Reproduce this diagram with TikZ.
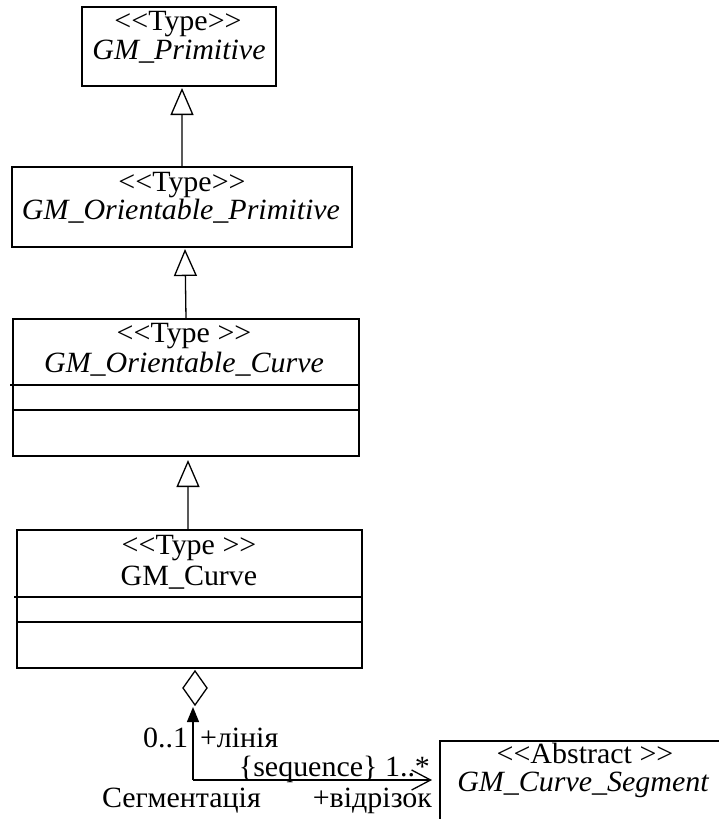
\documentclass[tikz,border=0pt]{standalone}
\usepackage{fontspec}
\setmainfont{Liberation Serif}[Ligatures=TeXOff,FakeStretch=1.02]
\usetikzlibrary{arrows.meta,shapes.geometric}
\begin{document}
\begin{tikzpicture}[x=1bp,y=-1bp,
  font=\fontsize{29.5}{30}\selectfont,
  umlbox/.style={draw,line width=1.3bp,inner sep=0,outer sep=0,anchor=north west},
  sepline/.style={line width=1.3bp},
  lbl/.style={inner sep=0,outer sep=0},
  gen/.style={line width=1.3bp,-{Triangle[open,length=27bp,width=23bp,line width=1.3bp]}},
  nav/.style={line width=1.3bp,-{Triangle[length=15bp,width=12bp]}},
  assoc/.style={line width=1.3bp,-{Straight Barb[length=19bp,width=20bp,line width=1.3bp]}},
  aggr/.style={draw,diamond,line width=1.3bp,inner sep=0,outer sep=0,
    minimum width=24bp,minimum height=34bp,aspect=0.7}
]
\useasboundingbox (0,0) rectangle (719,819);

% class boxes
\node[umlbox,minimum width=194bp,minimum height=79bp] (b1) at (82,7) {};
\node[umlbox,minimum width=340bp,minimum height=80bp] (b2) at (12,167) {};
\node[umlbox,minimum width=346bp,minimum height=137bp] (b3) at (13,319) {};
\node[umlbox,minimum width=345bp,minimum height=138bp] (b4) at (17,530) {};
\node[umlbox,minimum width=300bp,minimum height=100bp] (seg) at (440,741) {};

% compartment separators
\draw[sepline] (10,385) -- (b3.east |- 0,385);
\draw[sepline] (b3.west |- 0,410) -- (b3.east |- 0,410);
\draw[sepline] (14,597) -- (b4.east |- 0,597);
\draw[sepline] (b4.west |- 0,622) -- (b4.east |- 0,622);

% class names
\node[lbl,anchor=base] (s1) at (178,31) {<<Type>>};
\node[lbl,anchor=base] (n1) at (179,60) {\itshape GM\_Primitive};
\node[lbl,anchor=base] (s2) at (182,191) {<<Type>>};
\node[lbl,anchor=base] (n2) at (181,219) {\itshape GM\_Orientable\_Primitive};
\node[lbl,anchor=base] (s3) at (184,342) {<<Type >>};
\node[lbl,anchor=base] (n3) at (184,372) {\itshape GM\_Orientable\_Curve};
\node[lbl,anchor=base] (s4) at (189,554) {<<Type >>};
\node[lbl,anchor=base] (n4) at (189,585) {GM\_Curve};
\node[lbl,anchor=base] (s5) at (585,763) {<<Abstract >>};
\node[lbl,anchor=base] (n5) at (583,791) {\itshape GM\_Curve\_Segment};

% generalisations
\draw[gen] ([xshift=170bp]b2.north west) -- ([xshift=100bp,yshift=-2bp]b1.south west);
\draw[gen] ([xshift=173bp]b3.north west) -- ([xshift=173bp,yshift=-2bp]b2.south west);
\draw[gen] ([xshift=171bp]b4.north west) -- ([xshift=175bp,yshift=-4bp]b3.south west);

% aggregation with segments
\node[aggr,anchor=north] (dia) at ([xshift=178bp,yshift=-3bp]b4.south west) {};
\coordinate (bend) at (193,780);
\draw[nav] (bend) -- (bend |- 0,707);
\draw[assoc,shorten >=8bp] (bend) -- (bend -| seg.west);

% association labels
\node[lbl,anchor=base east] (m1) at (188,747) {0..1};
\node[lbl,anchor=base west] (r1) at (200,747) {+лінія};
\node[lbl,anchor=base east] (m2) at (430,776) {\{sequence\} 1..*};
\node[lbl,anchor=base west] (an) at (102,807) {Сегментація};
\node[lbl,anchor=base east] (r2) at (432,807) {+відрізок};
\end{tikzpicture}
\end{document}
